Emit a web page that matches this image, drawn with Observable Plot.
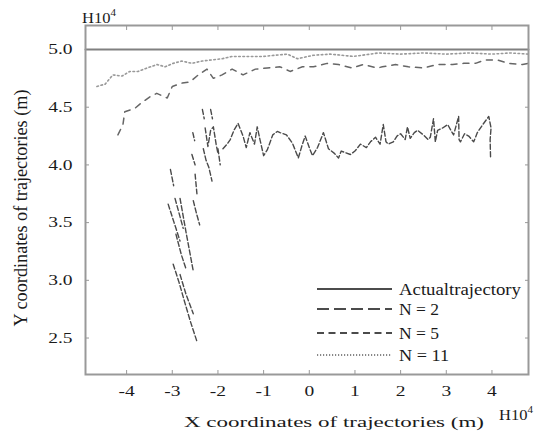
<!DOCTYPE html>
<html>
<head>
<meta charset="utf-8">
<script src="https://cdn.jsdelivr.net/npm/d3@7"></script>
<script src="https://cdn.jsdelivr.net/npm/@observablehq/plot@0.6"></script>
<style>
  body { margin: 0; background: #fff; }
  #chart svg { display: block; }
</style>
</head>
<body>
<div id="chart"></div>
<script>
// ---- data (units of 10^4 m) ----
const xTicks = [-4, -3, -2, -1, 0, 1, 2, 3, 4];
const yTicks = [2.5, 3.0, 3.5, 4.0, 4.5, 5.0];

const actual = [[-4.9, 5.0], [4.8, 5.0]];

// N = 2: separate noisy pieces of the estimated trajectory
const n2Pieces = [
  [[-3.04,3.96],[-2.97,3.82]],
  [[-3.09,3.66],[-2.96,3.50],[-2.83,3.34]],
  [[-2.94,3.71],[-2.85,3.58],[-2.76,3.45]],
  [[-2.83,3.71],[-2.70,3.42],[-2.62,3.25],[-2.54,3.08]],
  [[-2.98,3.14],[-2.85,2.98],[-2.72,2.80],[-2.60,2.64],[-2.46,2.47]],
  [[-2.83,3.05],[-2.70,2.88],[-2.54,2.71]],
  [[-2.92,3.40],[-2.80,3.22],[-2.70,3.10]],
  [[-2.50,3.92],[-2.46,3.75]],
  [[-2.54,3.69],[-2.47,3.58],[-2.40,3.48]],
  [[-2.57,4.09],[-2.50,4.00]],
  [[-2.55,4.28],[-2.51,4.21]],
  [[-2.34,4.48],[-2.30,4.40]],
  [[-2.16,4.48],[-2.12,4.40]],
  [[-2.28,4.32],[-2.22,4.16],[-2.16,4.30],[-2.10,4.33],[-2.04,4.18],[-2.00,4.10]],
  [[-2.32,4.14],[-2.26,4.04],[-2.20,3.98],[-2.13,3.86]],
  [[-2.00,4.14],[-1.95,4.00]],
  [[-1.89,4.14],[-1.80,4.18],[-1.73,4.22],[-1.65,4.30],[-1.56,4.36],[-1.45,4.25],[-1.38,4.15],
   [-1.30,4.28],[-1.20,4.18],[-1.14,4.33],[-1.08,4.22],[-1.00,4.08],[-0.92,4.13],
   [-0.80,4.26],[-0.70,4.29],[-0.64,4.28],[-0.50,4.26],[-0.37,4.19],[-0.24,4.06],[-0.15,4.18],
   [-0.09,4.25],[0.00,4.15],[0.07,4.08],[0.18,4.15],[0.31,4.28],[0.42,4.14],
   [0.55,4.10],[0.64,4.06],[0.70,4.12],[0.90,4.09],[1.00,4.12],[1.12,4.18],
   [1.25,4.15],[1.34,4.20],[1.45,4.24],[1.55,4.18],[1.62,4.35],[1.68,4.20],
   [1.73,4.18],[1.84,4.20],[1.92,4.25],[2.00,4.27],[2.10,4.22],[2.15,4.33],
   [2.21,4.23],[2.30,4.28],[2.37,4.30],[2.50,4.26],[2.60,4.22],[2.65,4.24],
   [2.72,4.40],[2.76,4.20],[2.81,4.30],[2.92,4.32],[3.03,4.35],[3.10,4.30],
   [3.16,4.26],[3.27,4.42],[3.28,4.22],[3.31,4.20],[3.40,4.27],[3.49,4.25],
   [3.60,4.20],[3.68,4.28],[3.80,4.35],[3.93,4.42],[3.98,4.32],[3.96,4.22],[3.97,4.05]]
];

const n5 = [
  [-4.19,4.26],[-4.08,4.35],[-4.04,4.46],[-3.82,4.49],[-3.70,4.53],[-3.49,4.59],
  [-3.34,4.62],[-3.11,4.58],[-3.00,4.68],[-2.78,4.71],[-2.61,4.72],[-2.43,4.78],
  [-2.24,4.83],[-2.10,4.75],[-1.91,4.78],[-1.69,4.83],[-1.45,4.78],[-1.18,4.83],
  [-0.92,4.84],[-0.64,4.85],[-0.42,4.81],[-0.15,4.85],[0.09,4.85],[0.39,4.88],
  [0.64,4.87],[0.94,4.84],[1.18,4.87],[1.49,4.84],[1.60,4.85],[1.89,4.87],
  [2.17,4.85],[2.50,4.84],[2.81,4.87],[3.14,4.87],[3.38,4.88],[3.64,4.88],
  [3.86,4.91],[4.12,4.91],[4.36,4.88],[4.67,4.87],[4.80,4.88]
];

const n11 = [
  [-4.65,4.68],[-4.47,4.70],[-4.30,4.78],[-4.10,4.77],[-3.93,4.81],[-3.75,4.81],
  [-3.55,4.84],[-3.33,4.87],[-3.16,4.85],[-2.98,4.88],[-2.79,4.90],[-2.57,4.88],
  [-2.35,4.90],[-2.13,4.91],[-1.91,4.92],[-1.69,4.94],[-1.45,4.94],[-1.01,4.94],
  [-0.48,4.96],[-0.26,4.92],[0.09,4.95],[0.46,4.96],[0.96,4.94],[1.34,4.96],
  [1.51,4.97],[2.00,4.96],[2.50,4.97],[3.00,4.96],[3.50,4.97],[4.00,4.96],
  [4.40,4.97],[4.80,4.96]
];

const legendLabels = ["Actualtrajectory", "N = 2", "N = 5", "N = 11"];
const legendDash = [null, "12,5", "7,4.5", "1.2,1.8"];
const xLabel = "X coordinates of trajectories (m)";
const yLabel = "Y coordinates of trajectories (m)";
const unitLabel = ["H10", "4"];

// ---- chart ----
const W = 539, H = 432;
const font = '"Liberation Serif", "Times New Roman", serif';
const SX = 1.3; // horizontal stretch of the reference's lettering

const n2 = n2Pieces.flatMap((pts, k) => pts.map(([x, y]) => ({ k, x, y })));

const svg = Plot.plot({
  width: W, height: H,
  marginLeft: 85, marginRight: 11, marginTop: 25, marginBottom: 58,
  style: { fontFamily: font, fontSize: "15px", background: "#fff", color: "#1a1a1a" },
  x: { domain: [-4.9, 4.8] },
  y: { domain: [2.184, 5.208] },
  marks: [
    Plot.axisX(xTicks, { anchor: "bottom", tickSize: 0, tickPadding: 11, label: null, tickFormat: d => String(d) }),
    Plot.axisX(xTicks, { anchor: "bottom", tickSize: -4, text: null, label: null, stroke: "#999" }),
    Plot.axisX(xTicks, { anchor: "top", tickSize: -4, text: null, label: null, stroke: "#999" }),
    Plot.axisY(yTicks, { anchor: "left", tickSize: 0, tickPadding: 13, label: null, tickFormat: d => d.toFixed(1) }),
    Plot.axisY(yTicks, { anchor: "left", tickSize: -4, text: null, label: null, stroke: "#999" }),
    Plot.axisY(yTicks, { anchor: "right", tickSize: -4, text: null, label: null, stroke: "#999" }),
    Plot.line(n11, { x: d => d[0], y: d => d[1], stroke: "#999", strokeWidth: 1.6, strokeDasharray: "1.6,2.6" }),
    Plot.line(n5, { x: d => d[0], y: d => d[1], stroke: "#666", strokeWidth: 1.5, strokeDasharray: "6,6" }),
    Plot.line(n2, { x: "x", y: "y", z: "k", stroke: "#4a4a4a", strokeWidth: 1.4, strokeDasharray: "5,2.5" }),
    Plot.line(actual, { x: d => d[0], y: d => d[1], stroke: "#808080", strokeWidth: 2 }),
    Plot.frame({ stroke: "#999", strokeWidth: 2 })
  ]
});

const s = d3.select(svg);

// stretch the tick labels horizontally like the reference lettering
s.selectAll('g[aria-label="x-axis tick label"] text, g[aria-label="y-axis tick label"] text').each(function () {
  const el = d3.select(this);
  const t = el.attr("transform");
  if (t) el.attr("transform", t + ` scale(${SX},1)`);
  else {
    const x = +el.attr("x") || 0, y = +el.attr("y") || 0;
    el.attr("x", null).attr("y", null).attr("transform", `translate(${x},${y}) scale(${SX},1)`);
  }
});

// H10^4 labels
[[82, 23], [499, 420]].forEach(([x, y]) => {
  const t = s.append("text").attr("transform", `translate(${x},${y}) scale(1.1,1)`)
    .attr("text-anchor", "start")
    .attr("font-family", font).attr("font-size", 15).attr("fill", "#1a1a1a");
  t.text(unitLabel[0]);
  t.append("tspan").attr("font-size", 10).attr("dy", -7).text(unitLabel[1]);
});

// axis titles
s.append("text").attr("x", 334).attr("y", 427).attr("text-anchor", "middle")
  .attr("font-family", font).attr("font-size", 15.5).attr("fill", "#1a1a1a")
  .attr("textLength", 300).attr("lengthAdjust", "spacingAndGlyphs").text(xLabel);
s.append("text").attr("transform", `translate(27,208) scale(${SX},1) rotate(-90)`)
  .attr("text-anchor", "middle").attr("font-family", font).attr("font-size", 15).attr("fill", "#1a1a1a")
  .attr("textLength", 237).attr("lengthAdjust", "spacingAndGlyphs").text(yLabel);

// legend
const legY = [289, 309, 333, 355];
const legW = [122, 40, 40, 50];
legendLabels.forEach((lab, i) => {
  const l = s.append("line").attr("x1", 317).attr("x2", 392).attr("y1", legY[i]).attr("y2", legY[i])
    .attr("stroke", "#111").attr("stroke-width", i === 3 ? 1 : 1.6);
  if (legendDash[i]) l.attr("stroke-dasharray", legendDash[i]);
  s.append("text").attr("x", 399).attr("y", legY[i] + 5.5).attr("text-anchor", "start")
    .attr("font-family", font).attr("font-size", 16).attr("fill", "#1a1a1a")
    .attr("textLength", legW[i]).attr("lengthAdjust", "spacingAndGlyphs").text(lab);
});

document.getElementById("chart").appendChild(svg);
</script>
</body>
</html>
